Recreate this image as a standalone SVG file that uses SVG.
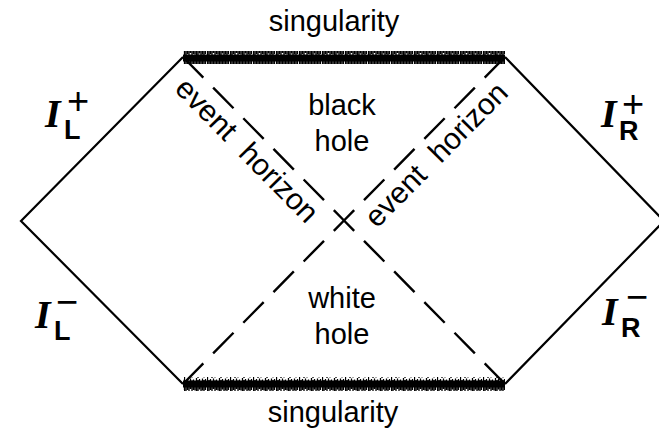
<svg xmlns="http://www.w3.org/2000/svg" width="659" height="432" viewBox="0 0 659 432">
<style>
.edge{fill:none;stroke:#000;stroke-width:2.2;stroke-linecap:butt}
.hz{fill:none;stroke:#000;stroke-width:2.4;stroke-dasharray:29 14;stroke-dashoffset:14.5}
.lbl{font-family:"Liberation Sans",Arial,Helvetica,sans-serif;font-size:29px;fill:#000}
.rot{font-size:30px}
.scri{font-family:"Liberation Serif","Times New Roman",serif;font-style:italic;font-weight:bold;font-size:40px}
.sub{font-family:"Liberation Sans",Arial,sans-serif;font-style:normal;font-weight:bold;font-size:27px}
.sup{font-family:"Liberation Sans",Arial,sans-serif;font-style:normal;font-weight:normal;font-size:38px}
</style>
<defs>
<pattern id="hair" patternUnits="userSpaceOnUse" x="0" y="0" width="23" height="14">
<path d="M0.5,0V14M2,2V13M3.5,1V12M5,3V14M6.5,0.5V11M8,2.5V13.5M9.5,1.5V12M11,3V12.5M12.5,0V13M14,2V14M15.5,1V11.5M17,3.5V13M18.5,0.5V12.5M20,2V13.5M21.5,1V12" stroke="#000" stroke-width="1.3" fill="none"/>
</pattern>
</defs>
<rect width="659" height="432" fill="#fff"/>
<g id="connectors">
<path class="edge" d="M183,57 L21,221 L183,384"/>
<path class="edge" d="M505,57 L664,221 L505,384"/>
<path class="hz" d="M344,220.5 L183,57"/>
<path class="hz" d="M344,220.5 L505,384"/>
<path class="hz" d="M344,220.5 L505,57"/>
<path class="hz" d="M344,220.5 L183,384"/>
</g>
<g id="singularity-top">
<rect x="183" y="51" width="322" height="13" fill="url(#hair)"/>
<rect x="183" y="54.5" width="322" height="7" fill="#000"/>
<text class="lbl" x="334" y="31" text-anchor="middle">singularity</text>
</g>
<g id="singularity-bottom">
<rect x="183" y="377" width="322" height="14" fill="url(#hair)"/>
<rect x="183" y="380.5" width="322" height="7" fill="#000"/>
<text class="lbl" x="333" y="422" text-anchor="middle">singularity</text>
</g>
<g id="black-hole">
<text class="lbl" x="342" y="115" text-anchor="middle">black</text>
<text class="lbl" x="342" y="151" text-anchor="middle">hole</text>
</g>
<g id="white-hole">
<text class="lbl" x="342" y="308" text-anchor="middle">white</text>
<text class="lbl" x="342" y="344" text-anchor="middle">hole</text>
</g>
<g id="horizon-left">
<text class="lbl rot" transform="translate(173.5,90) rotate(45.44)" word-spacing="9">event horizon</text>
</g>
<g id="horizon-right">
<text class="lbl rot" transform="translate(377,229) rotate(-45.44)" word-spacing="9">event horizon</text>
</g>
<g id="scri-L-plus">
<text fill="#000"><tspan class="scri" x="45" y="127">I</tspan><tspan class="sub" x="64" y="139">L</tspan><tspan class="sup" x="67" y="114">+</tspan></text>
</g>
<g id="scri-L-minus">
<text fill="#000"><tspan class="scri" x="35" y="328">I</tspan><tspan class="sub" x="54" y="340">L</tspan><tspan class="sup" x="56" y="315">−</tspan></text>
</g>
<g id="scri-R-plus">
<text fill="#000"><tspan class="scri" x="601" y="127">I</tspan><tspan class="sub" x="619" y="140">R</tspan><tspan class="sup" x="622" y="117">+</tspan></text>
</g>
<g id="scri-R-minus">
<text fill="#000"><tspan class="scri" x="602" y="325">I</tspan><tspan class="sub" x="621" y="337">R</tspan><tspan class="sup" x="626" y="310">−</tspan></text>
</g>
</svg>
